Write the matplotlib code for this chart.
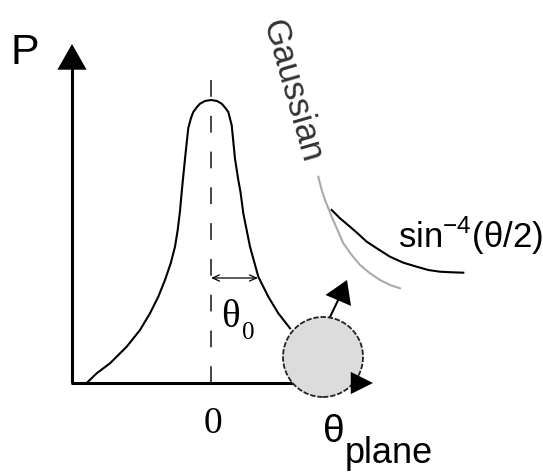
'''
Sketch of the multiple-scattering angular distribution:
Gaussian core with a single-scattering sin^-4(theta/2) tail.
'''

import matplotlib
matplotlib.use('Agg')
import matplotlib.pyplot as plt
from matplotlib.patches import Circle, FancyArrowPatch

# main distribution P(theta), theta = 0 at the dashed line
CORE_THETA = [-124.3, -114.3, -101, -84.3, -71, -61, -52.7, -46, -40.3, -36,
              -33.3, -31, -29.3, -26, -22.7, -20, -17.7, -14, -11, -6, 0,
              6, 10.7, 14, 17.3, 20.7, 24, 27.3, 29.5, 32.3, 39, 47.3, 57.3,
              67.3, 79]
CORE_P = [0, 9.7, 19.7, 36.3, 53, 69.7, 86.3, 103, 119.7, 136.3,
          153, 172, 191, 224.3, 255, 265, 271, 276, 279.3, 282, 283,
          282, 279.3, 275.5, 271, 257.7, 224.3, 203, 191, 169.7, 136.3, 106.3,
          86.3, 69.7, 54.7]

# tail comparison curves
GAUSS_THETA = [107.3, 110.7, 114, 120.7, 125.7, 132.3, 140.7, 149, 159, 169,
               179, 189]
GAUSS_P = [206.3, 193, 183, 166.3, 154.7, 139.7, 128, 118, 109.7, 103,
           98, 94.7]
RUTH_THETA = [120.7, 129, 139, 147.3, 155.7, 167.3, 179, 192.3, 205.7, 217.3,
              229, 240.7, 252.3]
RUTH_P = [173, 164.7, 156.3, 149, 141.3, 133.7, 126.3, 120.3, 116.3, 113,
          111.3, 110.7, 110.3]

THETA0 = 47          # width marker
AXIS_X = -139        # position of the P axis
AXIS_TOP = 339
AXIS_RIGHT = 162
DASH_TOP = 316
MARKER_P = 105

PARTICLE_XY = (112, 26)
PARTICLE_R = 40
KICK_FROM = (119, 66)
KICK_TO = (136, 103)


def head(ax, start, end, length, width, lw=0, z=3):
    style = f'-|>,head_length={length},head_width={width}'
    ar = FancyArrowPatch(start, end, arrowstyle=style, mutation_scale=1,
                         shrinkA=0, shrinkB=0, color='black', lw=lw, zorder=z)
    ax.add_patch(ar)


fig = plt.figure(figsize=(5.43, 4.73), dpi=100)
ax = fig.add_axes([0, 0, 1, 1])
ax.set_xlim(-211, 332)
ax.set_ylim(-90, 383)
ax.axis('off')

# axes
ax.plot([AXIS_X, AXIS_X], [0, AXIS_TOP - 15], color='black', lw=2.2,
        solid_capstyle='butt', zorder=2)
head(ax, (AXIS_X, AXIS_TOP - 20), (AXIS_X, AXIS_TOP), 18.5, 10.5)
ax.plot([AXIS_X - 1, AXIS_RIGHT - 20], [0, 0], color='black', lw=2.2,
        solid_capstyle='butt', zorder=2)

# dashed centre line
ax.plot([0, 0], [0, DASH_TOP], color='#444444', lw=1.4,
        dashes=(8.6, 9.8), zorder=1)

# curves
ax.plot(CORE_THETA, CORE_P, color='black', lw=1.5, zorder=2,
        solid_joinstyle='round')
ax.plot(GAUSS_THETA, GAUSS_P, color='#aaaaaa', lw=1.5, zorder=2,
        solid_joinstyle='round')
ax.plot(RUTH_THETA, RUTH_P, color='black', lw=1.5, zorder=2,
        solid_joinstyle='round')

# theta0 width marker
ax.annotate('', xy=(THETA0, MARKER_P), xytext=(0, MARKER_P),
            arrowprops=dict(arrowstyle='<->,head_length=0.5,head_width=0.22',
                            lw=0.9, color='black', shrinkA=0, shrinkB=0))

# particle
ax.add_patch(Circle(PARTICLE_XY, PARTICLE_R, facecolor='#dcdcdc',
                    edgecolor='#222222', lw=1.3, linestyle=(0, (3, 1)),
                    zorder=4))
ax.plot([KICK_FROM[0], KICK_TO[0] - 5], [KICK_FROM[1], KICK_TO[1] - 12],
        color='black', lw=1.5, zorder=3)
head(ax, (KICK_TO[0] - 6, KICK_TO[1] - 14), KICK_TO, 16, 10)
head(ax, (AXIS_RIGHT - 18, 0), (AXIS_RIGHT, 0), 16, 8, z=5)

# labels
ax.text(-186, 330, 'P', fontsize=31, family='Liberation Sans',
        ha='center', va='center')
ax.text(2, -41, '0', fontsize=27, family='Liberation Serif',
        ha='center', va='center')
ax.text(112, -59, 'θ', fontsize=28, family='Liberation Sans',
        ha='left', va='baseline')
ax.text(134, -80, 'plane', fontsize=26, family='Liberation Sans',
        ha='left', va='baseline')
ax.text(10, 56, 'θ', fontsize=28, family='Liberation Serif',
        ha='left', va='baseline')
ax.text(31, 44, '0', fontsize=18, family='Liberation Serif',
        ha='left', va='baseline')

plt.rcParams['mathtext.fontset'] = 'custom'
plt.rcParams['mathtext.rm'] = 'Liberation Sans'
ax.text(187, 135, 'sin$^{\\mathrm{-4}}$(θ/2)', fontsize=25,
        family='Liberation Sans', ha='left', va='baseline')
ax.text(81, 292, 'Gaussian', fontsize=25, family='Liberation Sans',
        color='#333333', rotation=-74, rotation_mode='anchor',
        ha='center', va='center')

fig.savefig('out.png', dpi=100)
